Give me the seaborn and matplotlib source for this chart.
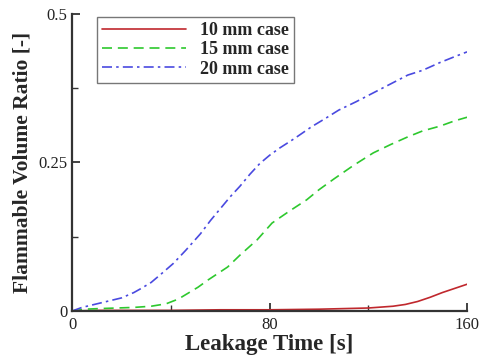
import matplotlib
matplotlib.use("Agg")
import matplotlib.pyplot as plt
import seaborn as sns
import pandas as pd
from matplotlib.ticker import FixedLocator, FixedFormatter

# ---- data ----
t_10 = [0, 10, 20, 40, 60, 80, 100, 110, 120, 130, 135, 140, 145, 150, 155, 160]
v_10 = [0, 0.001, 0.001, 0.001, 0.002, 0.002, 0.003, 0.004, 0.005, 0.008, 0.011, 0.016, 0.023, 0.031, 0.038, 0.045]

t_15 = [0, 5, 11, 18, 25, 32, 38, 43, 47, 51, 55, 59, 63, 68, 75, 81, 88, 95, 100, 106, 114, 122, 129, 136, 142, 149, 155, 160]
v_15 = [0, 0.003, 0.004, 0.005, 0.006, 0.008, 0.012, 0.02, 0.03, 0.04, 0.052, 0.063, 0.074, 0.094, 0.12, 0.148, 0.168, 0.187, 0.204, 0.222, 0.245, 0.266, 0.28, 0.293, 0.303, 0.311, 0.32, 0.326]

t_20 = [0, 4, 8, 11, 15, 20, 25, 28, 32, 36, 41, 46, 52, 56, 60, 64, 68, 72, 76, 80, 84, 90, 97, 103, 108, 115, 122, 129, 136, 142, 149, 155, 160]
v_20 = [0, 0.006, 0.01, 0.013, 0.017, 0.022, 0.031, 0.038, 0.048, 0.062, 0.08, 0.102, 0.13, 0.152, 0.172, 0.192, 0.21, 0.23, 0.248, 0.262, 0.274, 0.29, 0.31, 0.325, 0.338, 0.352, 0.367, 0.382, 0.397, 0.405, 0.418, 0.428, 0.436]

labels = ["10 mm case", "15 mm case", "20 mm case"]
colors = ["#c0282d", "#2ec82e", "#4a4ae0"]
styles = ["-", (0, (6, 3.5)), (0, (6, 2.5, 1.5, 2.5))]

x_ticks = [0, 80, 160]
y_ticks = [0, 0.25, 0.5]
y_tick_labels = ["0", "0.25", "0.5"]

sns.set_theme(style="white")
plt.rcParams["font.family"] = ["Liberation Serif", "DejaVu Serif"]

fig = plt.figure(figsize=(4.81, 3.55), dpi=100)
ax = fig.add_axes([0.150, 0.124, 0.821, 0.837])

for t, v, lab, c, ls in zip([t_10, t_15, t_20], [v_10, v_15, v_20], labels, colors, styles):
    df = pd.DataFrame({"t": t, "v": v})
    sns.lineplot(data=df, x="t", y="v", ax=ax, color=c, linestyle=ls, linewidth=1.2, label=lab)

ax.set_xlim(0, 160)
ax.set_ylim(0, 0.5)
ax.xaxis.set_major_locator(FixedLocator(x_ticks))
ax.xaxis.set_minor_locator(FixedLocator([40, 120]))
ax.yaxis.set_major_locator(FixedLocator(y_ticks))
ax.yaxis.set_major_formatter(FixedFormatter(y_tick_labels))
ax.yaxis.set_minor_locator(FixedLocator([0.125, 0.375]))
ax.tick_params(which="both", direction="in", bottom=True, left=True,
               colors="#333333", labelcolor="#222222")
ax.tick_params(which="major", length=6, width=1.3, labelsize=12)
ax.tick_params(which="minor", length=4, width=1)
ax.tick_params(axis="x", pad=4)

for s in ["top", "right"]:
    ax.spines[s].set_visible(False)
for s in ["left", "bottom"]:
    ax.spines[s].set_color("#333333")
    ax.spines[s].set_linewidth(1.6)

ax.set_xlabel("Leakage Time [s]", fontsize=16.5, fontweight="bold", labelpad=1)
ax.set_ylabel("Flammable Volume Ratio [-]", fontsize=15.5, fontweight="bold", labelpad=4)

leg = ax.legend(loc="upper left", bbox_to_anchor=(0.063, 0.99), frameon=True, fancybox=False,
                handlelength=4.6, prop={"weight": "bold", "size": 13}, borderpad=0.3,
                labelspacing=0.12, handletextpad=0.8, borderaxespad=0)
leg.get_frame().set_edgecolor("#555555")
leg.get_frame().set_linewidth(1.0)

fig.savefig("out.png", dpi=100)
